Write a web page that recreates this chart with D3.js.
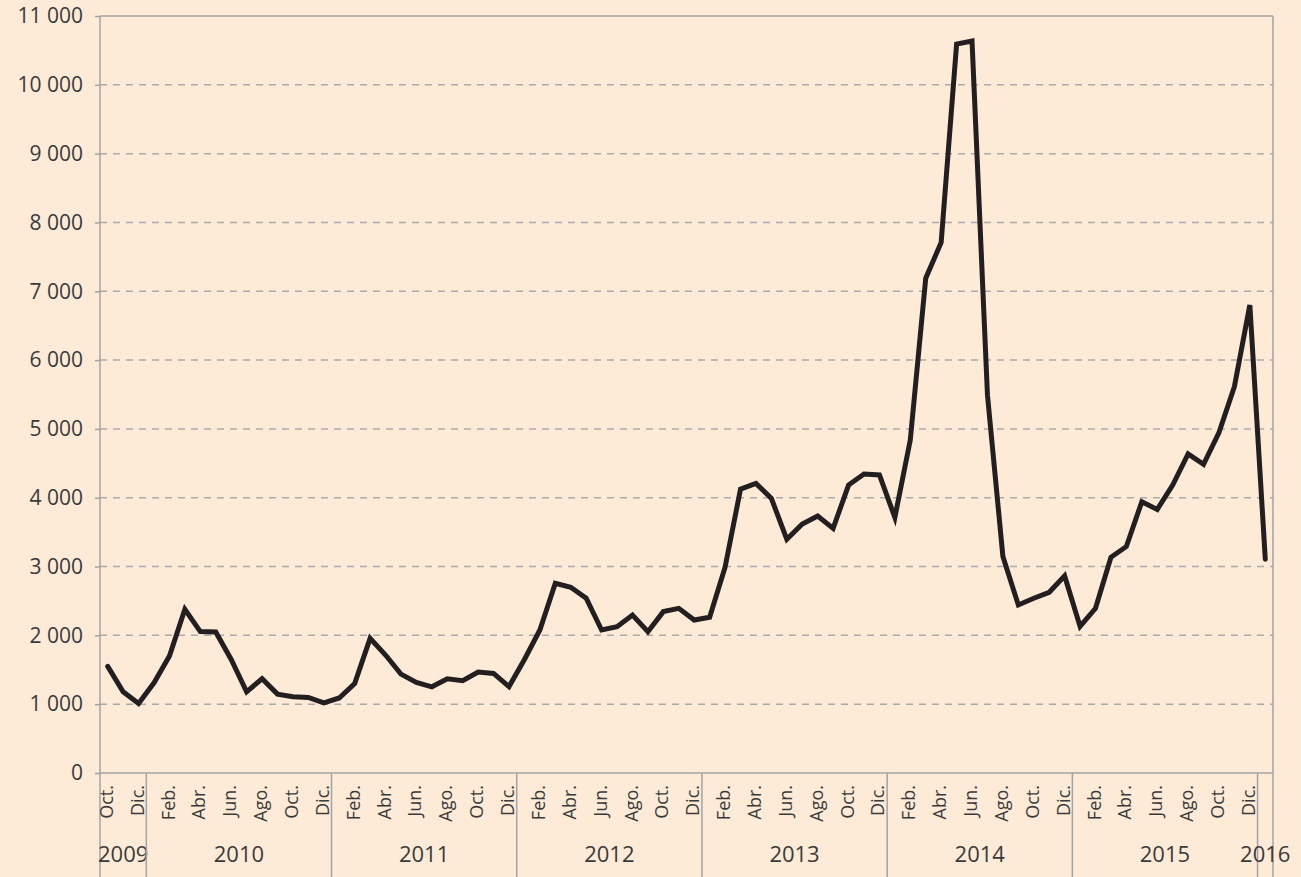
<html>
<head>
<meta charset="utf-8">
<script src="https://cdnjs.cloudflare.com/ajax/libs/d3/7.8.5/d3.min.js"></script>
<style>
  body { margin: 0; background: #fdebd8; }
  svg { display: block; font-family: "Open Sans", "Noto Sans", sans-serif; }
</style>
</head>
<body>
<script>

    // month labels (Spanish), only every second one is printed
    var monthNames = ["Ene.", "Feb.", "Mar.", "Abr.", "May.", "Jun.", "Jul.", "Ago.", "Sep.", "Oct.", "Nov.", "Dic."];
    var years = ["2009", "2010", "2011", "2012", "2013", "2014", "2015", "2016"];
    var monthsInYear = [3, 12, 12, 12, 12, 12, 12, 1];
    var firstMonth = 9; // October 2009

    // monthly values, Oct 2009 .. Jan 2016
    var values = [
        1550, 1180, 1010,
        1310, 1700, 2380, 2055, 2050, 1650, 1180, 1370, 1146, 1107, 1097, 1020,
        1090, 1300, 1956, 1714, 1437, 1316, 1252, 1369, 1340, 1466, 1447, 1255,
        1650, 2078, 2757, 2699, 2539, 2078, 2126, 2296, 2053, 2345, 2393, 2223,
        2262, 2990, 4126, 4208, 3990, 3395, 3617, 3734, 3555, 4184, 4344, 4330,
        3714, 4840, 7190, 7709, 10592, 10636, 5490, 3146, 2442, 2539, 2626, 2864,
        2130, 2393, 3136, 3291, 3942, 3830, 4184, 4636, 4485, 4947, 5616, 6800,
        3107
    ];

    var yTicks = [0, 1000, 2000, 3000, 4000, 5000, 6000, 7000, 8000, 9000, 10000, 11000];

    var W = 1301, H = 877;
    var margin = {top: 16, right: 28, bottom: 104, left: 100};
    var x0 = margin.left, x1 = W - margin.right,
        y0 = H - margin.bottom, y1 = margin.top;

    var svg = d3.select("body").append("svg")
        .attr("width", W).attr("height", H);

    svg.append("rect").attr("width", W).attr("height", H).attr("fill", "#fdebd8");

    var xScale = d3.scaleBand()
        .domain(d3.range(values.length))
        .range([x0, x1]);

    var yScale = d3.scaleLinear()
        .domain([0, 11000])
        .range([y0, y1]);

    var axisColor = "#a3a3a3";

    // dashed grid
    svg.append("g").selectAll("line")
        .data(yTicks.filter(function (d) { return d > 0 && d < 11000; }))
        .enter().append("line")
        .attr("x1", x0).attr("x2", x1)
        .attr("y1", function (d) { return yScale(d); })
        .attr("y2", function (d) { return yScale(d); })
        .attr("stroke", "#aaaaaa")
        .attr("stroke-width", 1.5)
        .attr("stroke-dasharray", "7,6");

    // y axis
    var fmt = function (d) { return d3.format(",")(d).replace(",", " "); };
    var yAxis = d3.axisLeft(yScale).tickValues(yTicks).tickSize(5).tickPadding(12).tickFormat(fmt);
    var gy = svg.append("g")
        .attr("transform", "translate(" + x0 + ",0)")
        .call(yAxis);
    gy.select(".domain").remove();
    gy.selectAll(".tick line").attr("stroke", axisColor).attr("stroke-width", 1.5);
    gy.selectAll(".tick text")
        .attr("fill", "#3a3a3a")
        .style("font-size", "21px")
        .style("font-family", "'Open Sans', sans-serif");

    // frame: top, left, right, bottom
    svg.append("line").attr("x1", x0).attr("x2", x1).attr("y1", y1).attr("y2", y1)
        .attr("stroke", axisColor).attr("stroke-width", 1.5);
    svg.append("line").attr("x1", x0).attr("x2", x1).attr("y1", y0).attr("y2", y0)
        .attr("stroke", axisColor).attr("stroke-width", 1.5);
    svg.append("line").attr("x1", x0).attr("x2", x0).attr("y1", y1).attr("y2", H)
        .attr("stroke", axisColor).attr("stroke-width", 1.5);
    svg.append("line").attr("x1", x1).attr("x2", x1).attr("y1", y1).attr("y2", H)
        .attr("stroke", axisColor).attr("stroke-width", 1.5);

    // categories
    var cats = [];
    var m = firstMonth;
    years.forEach(function (yr, yi) {
        for (var k = 0; k < monthsInYear[yi]; k++) {
            cats.push({year: yr, month: m, yi: yi});
            m = (m + 1) % 12;
        }
    });

    var mid = function (i) { return xScale(i) + xScale.bandwidth() / 2; };

    // month labels
    svg.append("g").selectAll("text")
        .data(cats.filter(function (c, i) { return i % 2 === 0; }))
        .enter().append("text")
        .attr("transform", function (c) {
            return "translate(" + mid(cats.indexOf(c)) + "," + (y0 + 12) + ") rotate(-90)";
        })
        .attr("dy", "0.28em")
        .attr("text-anchor", "end")
        .attr("fill", "#3a3a3a")
        .style("font-size", "18px")
        .text(function (c) { return monthNames[c.month]; });

    // year separators and labels
    var start = 0;
    years.forEach(function (yr, yi) {
        var a = xScale(start), b = xScale(start + monthsInYear[yi] - 1) + xScale.bandwidth();
        if (yi > 0) {
            svg.append("line").attr("x1", a).attr("x2", a).attr("y1", y0).attr("y2", H)
                .attr("stroke", axisColor).attr("stroke-width", 1.5);
        }
        svg.append("text")
            .attr("x", (a + b) / 2)
            .attr("y", 862)
            .attr("text-anchor", "middle")
            .attr("fill", "#3a3a3a")
            .style("font-size", "22px")
            .text(yr);
        start += monthsInYear[yi];
    });

    // the series
    var line = d3.line()
        .x(function (d, i) { return mid(i); })
        .y(function (d) { return yScale(d); });

    svg.append("path")
        .datum(values)
        .attr("d", line)
        .attr("fill", "none")
        .attr("stroke", "#231f20")
        .attr("stroke-width", 5)
        .attr("stroke-linecap", "round");

</script>
</body>
</html>
